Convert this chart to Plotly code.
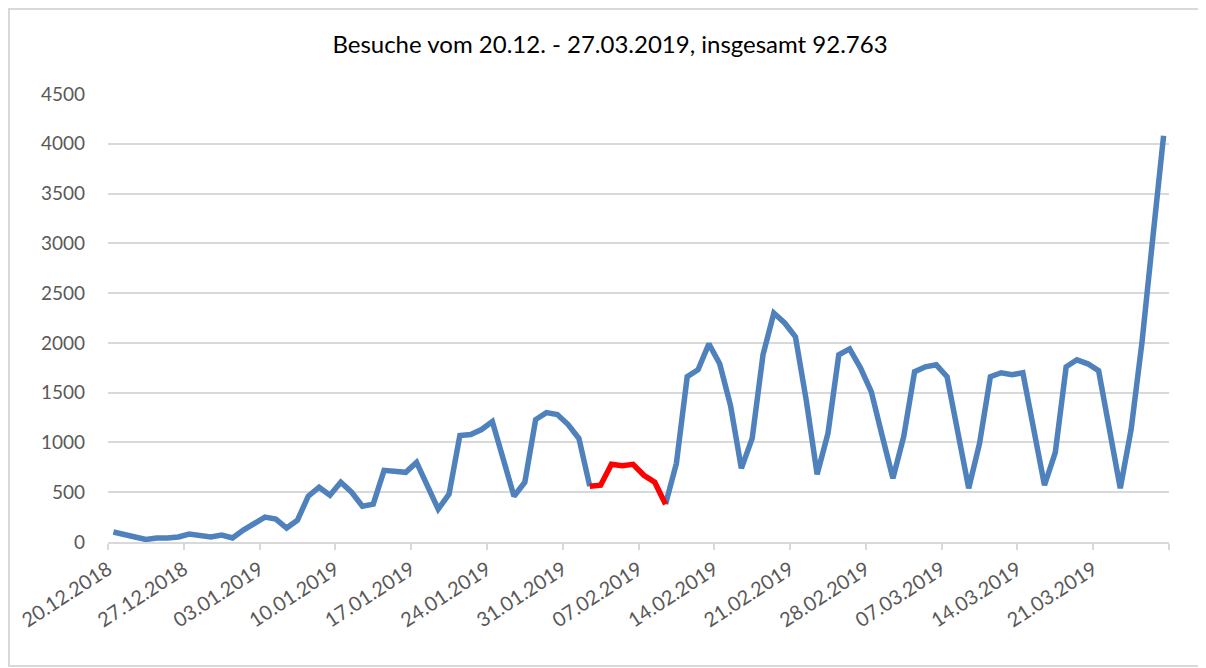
import plotly.graph_objects as go

# Daily visits 20.12.2018 - 27.03.2019 (98 days)
visits = [
    100, 80, 50, 25, 40, 40, 50,          # 20.12 - 26.12
    80, 70, 50, 70, 40, 120, 190,         # 27.12 - 02.01
    250, 230, 140, 220, 460, 550, 470,    # 03.01 - 09.01
    600, 500, 360, 380, 720, 710, 700,    # 10.01 - 16.01
    800, 580, 330, 480, 1070, 1080, 1130, # 17.01 - 23.01
    1210, 850, 460, 600, 1230, 1300, 1280,# 24.01 - 30.01
    1180, 1040, 560, 570, 780, 765, 780,  # 31.01 - 06.02
    670, 600, 380, 790, 1660, 1730, 1990, # 07.02 - 13.02
    1790, 1370, 740, 1040, 1880, 2300, 2200, # 14.02 - 20.02
    2060, 1420, 680, 1090, 1880, 1940, 1750, # 21.02 - 27.02
    1510, 1070, 640, 1060, 1710, 1760, 1780, # 28.02 - 06.03
    1660, 1090, 540, 990, 1660, 1700, 1680,  # 07.03 - 13.03
    1700, 1120, 570, 900, 1760, 1830, 1790,  # 14.03 - 20.03
    1720, 1120, 540, 1130, 2000, 3050, 4080, # 21.03 - 27.03
]

# Weekly tick labels
week_labels = ["20.12.2018", "27.12.2018", "03.01.2019", "10.01.2019",
               "17.01.2019", "24.01.2019", "31.01.2019", "07.02.2019",
               "14.02.2019", "21.02.2019", "28.02.2019", "07.03.2019",
               "14.03.2019", "21.03.2019"]

# Highlighted (red) stretch, day indices inclusive
red_start, red_end = 44, 51

title_text = "Besuche vom 20.12. - 27.03.2019, insgesamt 92.763"

n = len(visits)
days = list(range(n))

blue_y = [v if (i <= red_start or i >= red_end) else None for i, v in enumerate(visits)]
red_x = days[red_start:red_end + 1]
red_y = visits[red_start:red_end + 1]

BLUE = "#4F81BD"
RED = "#FF0000"
GREY_TXT = "#595959"
GRID = "#D9D9D9"

fig = go.Figure()
fig.add_trace(go.Scatter(x=days, y=blue_y, mode="lines",
                         line=dict(color=BLUE, width=5.5, shape="linear"),
                         connectgaps=False, hoverinfo="skip", showlegend=False))
fig.add_trace(go.Scatter(x=red_x, y=red_y, mode="lines",
                         line=dict(color=RED, width=5.5),
                         hoverinfo="skip", showlegend=False))

tickvals = [-0.5 + 7 * k for k in range(len(week_labels) + 1)]
ticktext = week_labels + [""]

# page has an 8px body margin; figure sized so it ends at the window edge
W, H = 1198, 660
L, R, T, B = 100, 37, 86, 126
pw, ph = W - L - R, H - T - B

def px_to_paper_x(px):
    return (px - L) / pw

def px_to_paper_y(py):
    return (H - B - py) / ph

fig.update_layout(
    width=W, height=H,
    margin=dict(l=L, r=R, t=T, b=B, autoexpand=False),
    paper_bgcolor="white", plot_bgcolor="white",
    font=dict(family="Lato, Carlito, Calibri, sans-serif", color=GREY_TXT, size=19),
    title=dict(text=title_text, x=602 / W, xref="container", xanchor="center",
               y=1 - 37 / H, yref="container", yanchor="middle",
               font=dict(size=24, color="#000000", family="Lato, sans-serif")),
    xaxis=dict(range=[-0.5, n - 0.5], tickmode="array", tickvals=tickvals,
               ticktext=ticktext, tickangle=-33, showgrid=False, zeroline=False,
               showline=True, linecolor=GRID, linewidth=2, automargin=False,
               ticks="outside", ticklen=6, tickcolor=GRID, tickwidth=2,
               tickfont=dict(size=20, color=GREY_TXT)),
    yaxis=dict(range=[0, 4500], tickmode="linear", tick0=0, dtick=500,
               showgrid=True, gridcolor=GRID, gridwidth=2, zeroline=False,
               showline=False, ticks="", ticklabelstandoff=22, automargin=False,
               tickfont=dict(size=19, color=GREY_TXT)),
    shapes=[dict(type="rect", xref="paper", yref="paper",
                 x0=px_to_paper_x(1), x1=px_to_paper_x(1195),
                 y0=px_to_paper_y(658), y1=px_to_paper_y(1),
                 line=dict(color=GRID, width=2), fillcolor="rgba(0,0,0,0)",
                 layer="below")],
)

fig.write_html("out.html")
